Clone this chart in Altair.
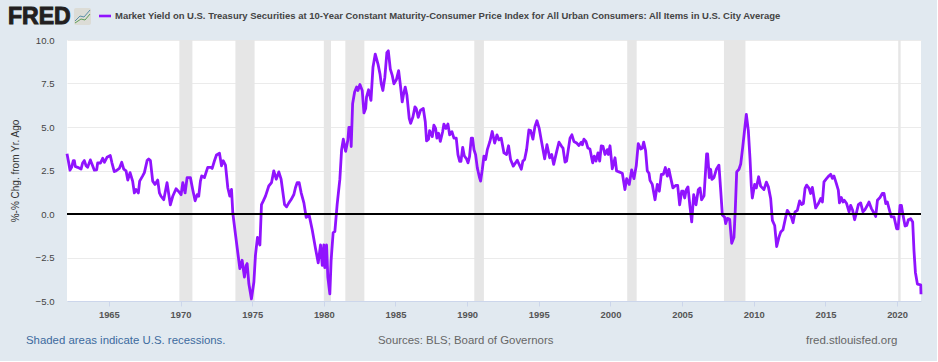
import altair as alt
import pandas as pd

TITLE = "Market Yield on U.S. Treasury Securities at 10-Year Constant Maturity-Consumer Price Index for All Urban Consumers: All Items in U.S. City Average"
Y_TITLE = "%-% Chg. from Yr. Ago"

years = [
 1962.08,1962.17,1962.29,1962.40,1962.52,1962.59,1962.66,1962.82,1963.06,1963.17,1963.29,1963.41,1963.52,1963.71,1963.82,1963.99,
 1964.15,1964.22,1964.41,1964.57,1964.69,1964.87,1965.10,1965.22,1965.38,1965.50,1965.73,1965.90,1966.04,1966.20,1966.32,1966.48,
 1966.66,1966.78,1966.90,1967.06,1967.15,1967.36,1967.48,1967.67,1967.78,1967.90,1968.06,1968.22,1968.41,1968.53,1968.64,1968.83,
 1969.06,1969.29,1969.46,1969.69,1969.85,1970.04,1970.16,1970.32,1970.46,1970.69,1970.85,1971.02,1971.16,1971.27,1971.39,1971.48,
 1971.67,1971.78,1971.90,1972.13,1972.21,1972.37,1972.51,1972.72,1972.86,1972.98,1973.14,1973.30,1973.44,1973.56,1973.65,1973.84,
 1974.14,1974.30,1974.46,1974.58,1974.65,1974.77,1974.95,1975.12,1975.23,1975.37,1975.54,1975.65,1975.77,1975.93,1976.16,1976.35,
 1976.51,1976.68,1976.86,1977.02,1977.26,1977.40,1977.56,1977.72,1977.91,1978.02,1978.14,1978.28,1978.42,1978.61,1978.77,1978.98,
 1979.19,1979.42,1979.61,1979.77,1979.89,1980.00,1980.07,1980.19,1980.28,1980.42,1980.51,1980.65,1980.77,1980.93,1981.12,1981.24,
 1981.36,1981.52,1981.68,1981.75,1981.87,1981.91,1982.01,1982.15,1982.29,1982.38,1982.52,1982.68,1982.80,1982.92,1982.98,1983.12,
 1983.29,1983.43,1983.59,1983.78,1983.92,1984.01,1984.12,1984.26,1984.40,1984.50,1984.64,1984.78,1984.89,1985.06,1985.22,1985.36,
 1985.47,1985.57,1985.68,1985.80,1985.96,1986.06,1986.22,1986.36,1986.45,1986.59,1986.75,1986.94,1987.08,1987.17,1987.31,1987.38,
 1987.57,1987.68,1987.80,1987.89,1988.01,1988.13,1988.29,1988.38,1988.52,1988.66,1988.78,1988.94,1989.08,1989.24,1989.36,1989.48,
 1989.57,1989.69,1989.80,1989.96,1990.06,1990.17,1990.29,1990.38,1990.48,1990.59,1990.71,1990.85,1990.94,1991.06,1991.17,1991.29,
 1991.41,1991.59,1991.75,1991.92,1992.08,1992.22,1992.38,1992.57,1992.75,1992.89,1993.03,1993.22,1993.50,1993.78,1993.89,1994.01,
 1994.15,1994.31,1994.43,1994.59,1994.73,1994.87,1995.03,1995.17,1995.41,1995.57,1995.76,1995.90,1996.04,1996.25,1996.41,1996.59,
 1996.69,1996.83,1996.94,1997.04,1997.18,1997.31,1997.45,1997.64,1997.80,1997.97,1998.04,1998.15,1998.29,1998.43,1998.57,1998.76,
 1998.87,1998.99,1999.13,1999.25,1999.36,1999.48,1999.62,1999.78,1999.85,1999.97,2000.13,2000.32,2000.43,2000.60,2000.83,2001.01,
 2001.13,2001.31,2001.48,2001.64,2001.80,2001.94,2002.11,2002.22,2002.32,2002.45,2002.57,2002.69,2002.76,2002.92,2003.11,2003.27,
 2003.41,2003.55,2003.69,2003.83,2003.97,2004.08,2004.20,2004.36,2004.55,2004.69,2004.83,2004.97,2005.08,2005.18,2005.29,2005.41,
 2005.55,2005.67,2005.81,2005.97,2006.13,2006.25,2006.36,2006.53,2006.71,2006.78,2006.90,2006.99,2007.08,2007.22,2007.39,2007.57,
 2007.69,2007.81,2007.97,2008.04,2008.16,2008.32,2008.46,2008.62,2008.71,2008.81,2008.97,2009.09,2009.23,2009.37,2009.48,2009.62,
 2009.74,2009.83,2009.90,2010.06,2010.18,2010.34,2010.48,2010.71,2010.88,2011.02,2011.18,2011.30,2011.46,2011.60,2011.76,2011.88,
 2012.04,2012.23,2012.34,2012.46,2012.62,2012.74,2012.88,2013.04,2013.20,2013.34,2013.46,2013.58,2013.69,2013.86,2013.97,2014.09,
 2014.32,2014.51,2014.67,2014.79,2014.90,2015.09,2015.25,2015.37,2015.48,2015.60,2015.76,2015.90,2015.98,2016.11,2016.23,2016.32,
 2016.48,2016.65,2016.76,2016.90,2017.04,2017.18,2017.30,2017.46,2017.62,2017.76,2017.93,2018.04,2018.21,2018.39,2018.51,2018.63,
 2018.81,2018.97,2019.09,2019.21,2019.32,2019.44,2019.60,2019.79,2019.97,2020.07,2020.21,2020.30,2020.42,2020.56,2020.67,2020.79,
 2020.95,2021.09,2021.18,2021.28,2021.42,2021.65,2021.67,
]
values = [
 3.46,3.07,2.52,2.68,3.07,3.07,2.73,2.68,2.58,2.93,3.07,2.77,2.68,3.11,2.87,2.52,
 2.54,2.93,2.93,3.20,2.97,3.26,3.36,2.93,2.44,2.48,2.62,2.97,2.58,2.48,1.95,2.38,
 1.89,1.21,1.41,1.21,1.89,2.19,2.38,3.07,3.16,3.07,1.89,1.70,1.95,1.21,1.02,0.82,
 1.80,0.53,1.02,1.45,1.31,1.11,1.80,1.21,2.09,2.09,1.41,0.76,1.11,1.02,1.89,2.19,
 2.09,2.38,2.68,2.68,2.62,3.06,3.39,3.49,2.77,3.06,2.81,1.51,1.03,1.41,0.06,-1.20,
 -3.14,-2.66,-3.62,-2.95,-2.85,-4.01,-4.88,-3.91,-2.36,-1.34,-1.78,0.54,0.74,1.03,1.61,1.80,
 2.48,2.00,2.42,2.00,0.54,0.41,0.64,0.83,1.12,1.51,1.80,1.80,1.22,0.64,-0.19,-0.08,
 -0.91,-1.98,-2.81,-1.78,-2.95,-1.78,-3.08,-1.78,-3.62,-4.59,-2.66,-1.07,-1.01,0.54,2.00,3.69,
 4.30,3.60,4.26,4.98,4.98,3.88,6.34,7.01,7.30,7.10,7.44,7.10,5.81,6.06,6.72,7.14,
 6.53,8.43,9.19,8.62,8.05,7.48,7.10,7.86,9.28,9.38,8.33,7.95,7.48,7.71,8.24,7.29,
 6.44,6.91,7.29,6.82,5.49,5.21,5.59,6.16,6.06,5.55,5.97,6.06,5.30,4.20,4.30,4.79,
 4.45,5.11,4.92,4.36,4.64,4.17,4.73,5.17,4.92,5.17,4.55,4.73,4.36,4.36,3.41,3.03,
 3.03,3.83,3.35,3.16,2.94,3.31,4.36,4.36,3.69,3.41,2.65,2.14,1.89,2.57,3.32,3.13,
 3.70,4.17,4.74,4.08,4.55,4.26,4.36,3.51,3.42,3.92,3.13,2.75,3.09,2.57,3.04,3.13,
 3.70,4.83,4.79,4.30,5.02,5.36,4.92,4.26,3.17,3.98,3.23,3.42,2.85,3.60,4.13,3.89,
 3.79,2.98,3.04,3.60,4.36,4.55,4.17,4.08,3.94,4.13,3.98,4.30,4.17,3.79,3.74,2.94,
 3.32,3.04,3.51,3.04,3.92,3.89,3.42,3.70,3.42,3.92,2.60,3.23,2.47,2.42,2.34,1.40,
 2.03,1.70,2.53,2.03,2.77,4.04,3.74,3.78,4.13,3.65,2.48,2.34,1.93,1.70,0.82,1.70,
 1.31,2.28,2.28,2.67,2.18,2.57,2.09,1.50,1.64,1.64,0.53,1.31,1.31,0.92,1.40,1.56,
 0.43,-0.45,1.11,0.53,1.40,1.50,0.82,1.05,3.45,3.45,2.09,2.57,1.99,2.09,2.57,2.81,
 1.40,-0.06,-0.19,-0.55,-0.25,-0.31,-1.68,-1.33,0.23,2.42,2.57,2.87,3.84,4.91,5.73,4.81,
 3.16,1.60,0.92,1.70,1.50,2.14,1.60,1.40,1.83,1.56,0.89,-0.37,-0.66,-1.87,-1.33,-1.04,
 -0.91,-0.17,0.21,0.06,-0.17,-0.50,0.12,0.21,0.75,0.54,0.60,1.47,1.66,1.47,1.18,1.53,
 0.35,0.60,0.89,0.69,1.85,2.05,2.20,2.28,2.05,2.18,1.76,1.37,0.64,0.95,0.69,0.79,
 0.60,0.12,0.50,0.21,-0.33,0.12,0.54,0.64,0.12,0.25,0.50,0.69,0.31,0.06,-0.14,0.79,
 0.95,1.18,1.18,0.60,0.69,0.31,-0.17,-0.17,-0.85,-0.85,0.50,0.50,-0.08,-0.69,-0.66,-0.33,
 -0.27,-0.46,-2.10,-3.36,-4.03,-4.07,-4.61,
]
rec_start = [1969.92,1973.83,1980.00,1981.50,1990.50,2001.17,2007.92,2020.08]
rec_end   = [1970.83,1975.17,1980.50,1982.83,1991.17,2001.83,2009.42,2020.25]
x_ticks = list(range(1965, 2025, 5))
y_ticks = [-5, -2.5, 0, 2.5, 5, 7.5, 10]

n = min(len(years), len(values))
df = pd.DataFrame({"year": years[:n], "value": values[:n]})
rec = pd.DataFrame({"s": rec_start, "e": rec_end})

BG = "#e1e9f0"
PURPLE = "#9013fe"
x_scale = alt.Scale(domain=[1962.08, 2021.67], nice=False, zero=False)
y_scale = alt.Scale(domain=[-5, 10], nice=False, zero=False)

base_x = alt.X("year:Q", scale=x_scale, title=None, axis=alt.Axis(
    values=x_ticks, format="d", grid=False, domainColor="#ccd6eb", domainWidth=1,
    tickColor="#ccd6eb", tickSize=5, labelFont="Liberation Sans", labelFontSize=9.4,
    labelFontWeight="bold", labelColor="#555555", labelPadding=4, labelFlush=False))
base_y = alt.Y("value:Q", scale=y_scale, title=Y_TITLE, axis=alt.Axis(
    values=y_ticks, format=".1f", grid=True, gridColor="#ebebeb", gridWidth=1, domain=False, ticks=False,
    labelFont="Liberation Sans", labelFontSize=9.6, labelColor="#444444", labelPadding=13,
    titleFont="Liberation Sans", titleFontSize=10, titleFontWeight="normal", titleColor="#333333",
    titlePadding=15))

line = alt.Chart(df).mark_line(color=PURPLE, strokeWidth=2.8, strokeJoin="round").encode(x=base_x, y=base_y)
bands = alt.Chart(rec).mark_rect(color="#e6e6e6").encode(
    x=alt.X("s:Q", scale=x_scale, title=None), x2="e:Q")
zero = alt.Chart(pd.DataFrame({"z": [0]})).mark_rule(color="#000000", strokeWidth=2).encode(
    y=alt.Y("z:Q", scale=y_scale, title=Y_TITLE))


def label(txt, x, y, **kw):
    return alt.Chart(pd.DataFrame({"t": [txt]})).mark_text(baseline="middle", align="left", **kw).encode(
        text="t:N", x=alt.value(x), y=alt.value(y))


def seg(x1, y1, x2, y2, color, w=1):
    return alt.Chart(pd.DataFrame({"a": [0]})).mark_rule(color=color, strokeWidth=w).encode(
        x=alt.value(x1), x2=alt.value(x2), y=alt.value(y1), y2=alt.value(y2))


# chart origin is (67, 40) on the page
ox, oy = 67, 40
deco = [
    label("FRED", 8 - ox, 17 - oy, font="Liberation Sans", fontSize=23, fontWeight="bold", color="#231f20",
          stroke="#231f20", strokeWidth=1),
    alt.Chart(pd.DataFrame({"a": [0]})).mark_rect(color="#dcdcd6", cornerRadius=2).encode(
        x=alt.value(74 - ox), x2=alt.value(91 - ox), y=alt.value(8 - oy), y2=alt.value(25 - oy)),
    seg(75 - ox, 21 - oy, 80 - ox, 16 - oy, "#5a8fa8"), seg(80 - ox, 16 - oy, 84 - ox, 17 - oy, "#5a8fa8"),
    seg(84 - ox, 17 - oy, 90 - ox, 10 - oy, "#5a8fa8"),
    seg(75 - ox, 23 - oy, 81 - ox, 19 - oy, "#5f9e5a"), seg(81 - ox, 19 - oy, 85 - ox, 20 - oy, "#5f9e5a"),
    seg(85 - ox, 20 - oy, 90 - ox, 14 - oy, "#5f9e5a"),
    seg(99 - ox, 16 - oy, 111 - ox, 16 - oy, PURPLE, 2.6),
    label(TITLE, 115 - ox, 16 - oy, font="Liberation Sans", fontSize=9.47, fontWeight="bold", color="#444444"),
    label("Shaded areas indicate U.S. recessions.", 26 - ox, 341 - oy, font="Liberation Sans", fontSize=11.4, color="#3c6a9e"),
    label("Sources: BLS; Board of Governors", 378 - ox, 341 - oy, font="Liberation Sans", fontSize=11.4, color="#666666"),
    label("fred.stlouisfed.org", 806 - ox, 341 - oy, font="Liberation Sans", fontSize=11.5, color="#666666"),
]

chart = alt.layer(bands, line, zero, *deco).resolve_scale(x="shared", y="shared").properties(
    width=854, height=261, background=BG,
    padding={"left": 67, "top": 40, "right": 16, "bottom": 60},
    autosize=alt.AutoSizeParams(type="none", contains="content"),
).configure_view(fill="#ffffff", stroke=None)

chart.save("out.html", embed_options={"renderer": "svg", "actions": False,
                                      "defaultStyle": "body{margin:0}"})
